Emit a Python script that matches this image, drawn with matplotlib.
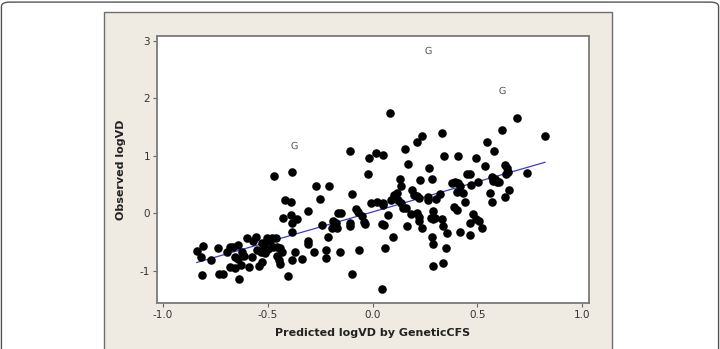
import matplotlib
matplotlib.use('Agg')
import matplotlib.pyplot as plt
import numpy as np
from matplotlib.patches import FancyBboxPatch, Rectangle

# predicted (x) and observed (y) logVD
pred_links = [-0.469, -0.384, -0.418, -0.389, -0.429, -0.389, -0.386, -0.359, -0.383, -0.37, -0.383, -0.405,
              -0.839, -0.808, -0.82, -0.812, -0.771, -0.737, -0.733, -0.712, -0.696, -0.68, -0.664, -0.64,
              -0.656, -0.643, -0.68, -0.656, -0.636, -0.621, -0.612, -0.628, -0.60, -0.589, -0.577, -0.569,
              -0.556, -0.55, -0.529, -0.532, -0.542, -0.529, -0.516, -0.505, -0.513, -0.497, -0.489, -0.478,
              -0.462, -0.473, -0.457, -0.442, -0.457, -0.449, -0.442, -0.433]
obs_links = [0.648, 0.72, 0.23, 0.196, -0.076, -0.03, -0.17, -0.10, -0.32, -0.68, -0.82, -1.09,
             -0.655, -0.57, -0.76, -1.08, -0.82, -0.61, -1.06, -1.05, -0.68, -0.59, -0.58, -0.56,
             -0.76, -0.80, -0.93, -0.96, -1.15, -0.67, -0.75, -0.90, -0.43, -0.94, -0.76, -0.49,
             -0.42, -0.64, -0.52, -0.67, -0.91, -0.85, -0.57, -0.43, -0.69, -0.62, -0.49, -0.43,
             -0.43, -0.58, -0.59, -0.61, -0.75, -0.81, -0.885, -0.68]

pred_kesk = [-0.27, -0.209, -0.251, -0.096, -0.306, -0.243, -0.187, -0.163, -0.152, -0.174, -0.193, -0.168,
             -0.107, -0.107, -0.079, -0.071, -0.052, -0.039, -0.036, -0.007, 0.023, 0.049, 0.052, 0.074,
             0.047, 0.056, 0.099, 0.059, -0.306, -0.306, -0.214, -0.278, -0.223, -0.223, -0.155, -0.066,
             -0.096, 0.044, -0.338, 0.086, 0.131, 0.135, 0.103, 0.115, 0.12, 0.138, 0.147, 0.16,
             0.163, 0.187, 0.20, 0.211, 0.222, 0.184, 0.211, 0.221, 0.223, 0.235, 0.226, 0.263,
             0.266, 0.282, 0.303, 0.322, 0.29, 0.279, 0.29, 0.298, 0.282, 0.287, 0.287, 0.338,
             0.33, 0.267, -0.023]
obs_kesk = [0.48, 0.48, 0.24, 0.34, 0.045, -0.20, -0.13, 0.0, 0.0, -0.17, -0.26, -0.26,
            -0.17, -0.23, 0.075, 0.03, -0.04, -0.145, -0.19, 0.17, 0.20, 0.17, 0.14, -0.03,
            -0.19, -0.21, -0.41, -0.61, -0.48, -0.53, -0.42, -0.67, -0.64, -0.77, -0.67, -0.64,
            -1.06, -1.31, -0.80, 0.23, 0.595, 0.48, 0.32, 0.35, 0.23, 0.17, 0.085, 0.085,
            -0.23, 0.40, 0.32, 0.30, 0.26, -0.02, 0.0, -0.06, -0.135, -0.26, 0.58, 0.29,
            0.23, 0.595, 0.25, 0.335, 0.045, -0.08, -0.10, -0.08, -0.41, -0.53, -0.92, -0.86,
            -0.10, 0.78, 0.69]

pred_paremal = [0.338, 0.349, 0.357, 0.418, 0.465, 0.465, 0.478, 0.496, 0.508, 0.521, 0.433, 0.441,
                0.402, 0.389, 0.402, 0.378, 0.394, 0.41, 0.418, 0.469, 0.505, 0.452, 0.465, 0.561,
                0.569, 0.633, 0.652, 0.569, 0.585, 0.593, 0.577, 0.605, 0.637, 0.645, 0.736]
obs_paremal = [-0.23, -0.60, -0.34, -0.32, -0.38, -0.17, -0.02, -0.10, -0.14, -0.26, 0.35, 0.2,
               0.375, 0.115, 0.06, 0.52, 0.55, 0.52, 0.48, 0.49, 0.55, 0.69, 0.68, 0.35,
               0.2, 0.28, 0.41, 0.635, 0.60, 0.55, 0.56, 0.55, 0.69, 0.72, 0.705]

pred_ylal = [0.085, -0.107, -0.015, 0.015, 0.052, 0.157, 0.211, 0.235, 0.33, 0.171, 0.34,
             0.407, 0.494, 0.537, 0.633, 0.64, 0.688, 0.618, 0.823, 0.547, 0.58]
obs_ylal = [1.75, 1.08, 0.965, 1.04, 1.01, 1.11, 1.23, 1.34, 1.40, 0.86, 1.0,
            0.995, 0.955, 0.82, 0.83, 0.79, 1.65, 1.44, 1.34, 1.24, 1.08]

# erindid (märgitud G-ga)
pred_g = [-0.373, 0.266, 0.617]
obs_g = [1.18, 2.84, 2.14]

x = np.array(pred_links + pred_kesk + pred_paremal + pred_ylal)
y = np.array(obs_links + obs_kesk + obs_paremal + obs_ylal)

x_ticks = [-1.0, -0.5, 0.0, 0.5, 1.0]
y_ticks = [-1, 0, 1, 2, 3]

fig = plt.figure(figsize=(7.2, 3.49), dpi=100)

# välimine ümar raam ja beez taust
fig.patches.append(FancyBboxPatch((0.002, -0.1), 0.996, 1.094, boxstyle='round,pad=0,rounding_size=0.012',
                                  transform=fig.transFigure, facecolor='white', edgecolor='#555555',
                                  linewidth=1.0, zorder=0))
fig.patches.append(Rectangle((104 / 720, -0.1), 508 / 720, 1 - 12 / 349 + 0.1, transform=fig.transFigure,
                             facecolor='#efebe2', edgecolor='#6e6e6e', linewidth=1.0, zorder=1))

ax = fig.add_axes([157 / 720, 1 - 303 / 349, 432 / 720, 267 / 349])
ax.set_zorder(2)
ax.set_facecolor('white')

ax.scatter(x, y, s=38, color='black', zorder=3, linewidths=0)
ax.scatter(pred_g, obs_g, s=28, marker=r'$\mathrm{G}$', color='#555555', linewidths=0, zorder=3)

# regressioonijoon kõigi punktide põhjal (ka G)
x_koik = np.concatenate([x, pred_g])
y_koik = np.concatenate([y, obs_g])
kalle, vabaliige = np.polyfit(x_koik, y_koik, 1)
xs = np.array([x.min(), x.max()])
ax.plot(xs, vabaliige + kalle * xs, color='#3a3ad6', linewidth=0.9, zorder=2)

ax.set_xlim(-1.029, 1.033)
ax.set_ylim(-1.56, 3.08)
ax.set_xticks(x_ticks)
ax.set_xticklabels(['-1.0', '-0.5', '0.0', '0.5', '1.0'])
ax.set_yticks(y_ticks)
ax.set_yticklabels([str(t) for t in y_ticks])
ax.tick_params(length=3, width=0.8, color='#666666', labelsize=7.5, labelcolor='#333333', pad=2)

for s in ax.spines.values():
    s.set_color('#7a7a7a')
    s.set_linewidth(1.3)

ax.set_xlabel('Predicted logVD by GeneticCFS', fontsize=8, fontweight='bold', color='#222222', labelpad=6)
ax.set_ylabel('Observed logVD', fontsize=8, fontweight='bold', color='#222222', labelpad=10)

fig.savefig('out.png', dpi=100)
